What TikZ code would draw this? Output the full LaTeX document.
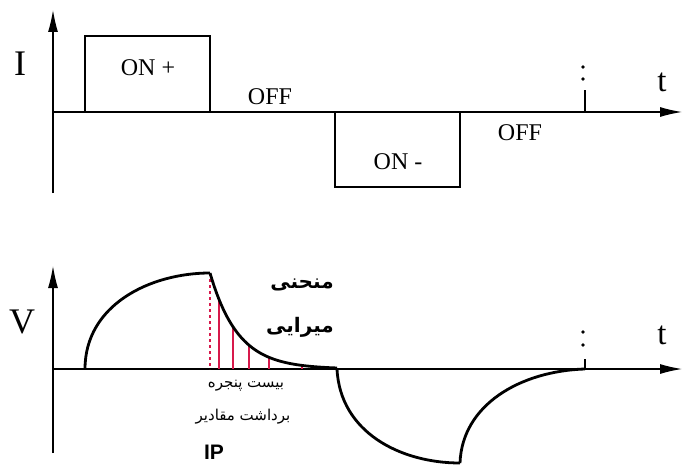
\documentclass[tikz,border=0pt]{standalone}
\usepackage{fontspec}
\setmainfont{Liberation Serif}
\newfontfamily\farsifont[Script=Arabic]{DejaVu Sans}
\newfontfamily\ipfont{Liberation Sans}
\TeXXeTstate=1
\usetikzlibrary{arrows.meta}
\definecolor{probered}{RGB}{215,25,75}

\begin{document}
\begin{tikzpicture}[x=1pt,y=-1pt,
    axis/.style={line width=1.2pt,-{Latex[length=22pt,width=10pt]}},
    wave/.style={line width=2.8pt,line join=miter},
    probe/.style={probered,line width=1.1pt},
    biglbl/.style={font=\fontsize{36}{38}\selectfont},
    tlbl/.style={font=\fontsize{33}{35}\selectfont},
    lbl/.style={font=\fontsize{24}{26}\selectfont},
    farsi/.style={font=\farsifont\bfseries\fontsize{20}{22}\selectfont},
    farsismall/.style={font=\farsifont\fontsize{15}{17}\selectfont}]
    \useasboundingbox (0,0) rectangle (684,465);

    \draw[axis] (53,193) -- (53,10);
    \draw[axis] (53,112) -- (682,112);
    \draw[wave] (85,112) -- (85,36) -- (210,36) -- (210,112) -- (335,112) -- (335,187)
        -- (460,187) -- (460,112) -- (585,112) -- (585,90);
    \fill (583,67) circle (1.8) (583,79) circle (1.8);

    \node[biglbl] (ilabel) at (20,64) {I};
    \node[tlbl] (ttop) at (662,82) {t};
    \node[lbl] (onplus) at (148,68) {ON +};
    \node[lbl] (offa) at (270,97) {OFF};
    \node[lbl] (onminus) at (398,162) {ON -};
    \node[lbl] (offb) at (520,133) {OFF};

    \draw[axis] (53,453) -- (53,266);
    \draw[axis] (53,369) -- (682,369);
    \draw[probe,dashed] (210,273) -- (210,369);
    \foreach \px in {219,233,249,269,302}
        \draw[probe] (\px,{369-96*exp(-(\px-210)/28)}) -- (\px,369);
    \draw[wave] (85,369) .. controls (85,305) and (150,273) .. (210,273);
    \draw[wave,domain=210:337,samples=60] plot (\x,{369-96*exp(-(\x-210)/28)});
    \draw[wave] (337,369) .. controls (340,432) and (400,463) .. (460,463);
    \draw[wave] (460,463) .. controls (462,405) and (520,371) .. (585,369);
    \draw[wave] (585,369) -- (585,359);
    \fill (583,332) circle (1.8) (583,345) circle (1.8);

    \node[biglbl] (vlabel) at (22,322) {V};
    \node[tlbl] (tbottom) at (662,335) {t};
    \node[farsi] (curvea) at (302,285) {\beginR منحنی\endR};
    \node[farsi] (curveb) at (300,327) {\beginR میرایی\endR};
    \node[farsismall] (windowa) at (246,386) {\beginR بیست پنجره\endR};
    \node[farsismall] (windowb) at (243,417) {\beginR برداشت مقادیر\endR};
    \node[font=\ipfont\bfseries\fontsize{21}{23}\selectfont] (iplabel) at (214,452) {IP};
\end{tikzpicture}
\end{document}
